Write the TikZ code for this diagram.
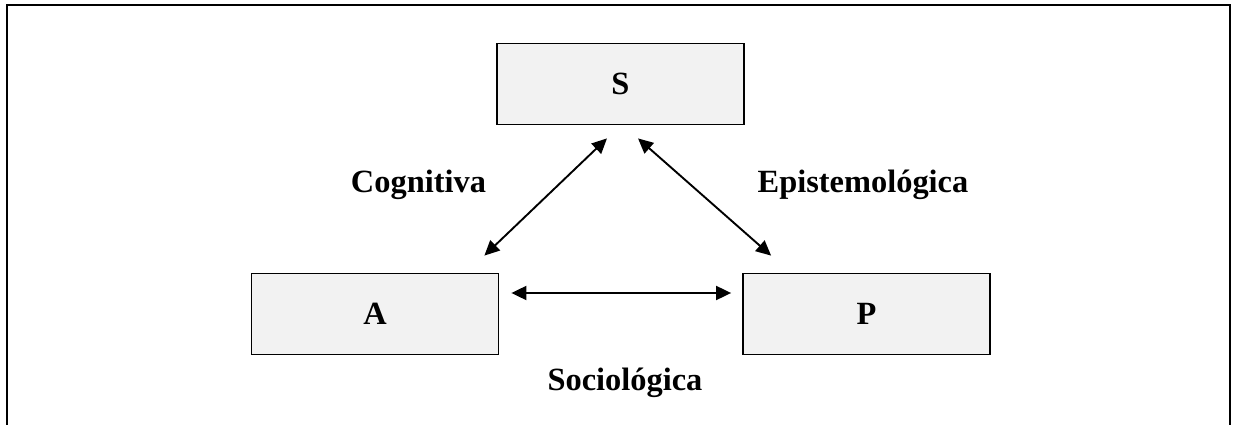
\documentclass[tikz,border=0pt]{standalone}
\usepackage{fontspec}
\setmainfont{Liberation Serif}
\usetikzlibrary{arrows.meta, positioning}

\begin{document}
\begin{tikzpicture}
[x=1pt, y=-1pt, font=\fontsize{32.4}{38}\selectfont\bfseries,
box/.style={draw, line width=1.8pt, fill=black!5, inner sep=0 pt, minimum width=247 pt, minimum height=81 pt},
link/.style={line width=1.9pt, {Triangle[length=15pt, width=14pt]}-{Triangle[length=15pt, width=14pt]}},
lbl/.style={anchor=base, inner sep=0 pt}
]

\useasboundingbox (0,0) rectangle (1235,425);

% frame, open at the bottom
\draw[line width=2pt] (6.5,425) -- (6.5,5) -- (1230,5) -- (1230,425);

% the three corners
\node[box] (S) at (620.5,84) {S};
\node[box] (A) at (375,314) {A};
\node[box] (P) at (866.5,314) {P};

% relations
\draw[link] ([shift={(-15,-17)}]A.north east) -- ([shift={(-13.5,13)}]S.south);
\draw[link] ([shift={(17.5,13)}]S.south) -- ([shift={(29,-17)}]P.north west);
\draw[link] ([shift={(12,-21)}]A.east) -- ([shift={(-11,-21)}]P.west);

% relation labels
\node[lbl] (cog) at (418.5,193) {Cognitiva};
\node[lbl] (epi) at (863,193) {Epistemológica};
\node[lbl] (soc) at (625,390) {Sociológica};

\end{tikzpicture}
\end{document}
